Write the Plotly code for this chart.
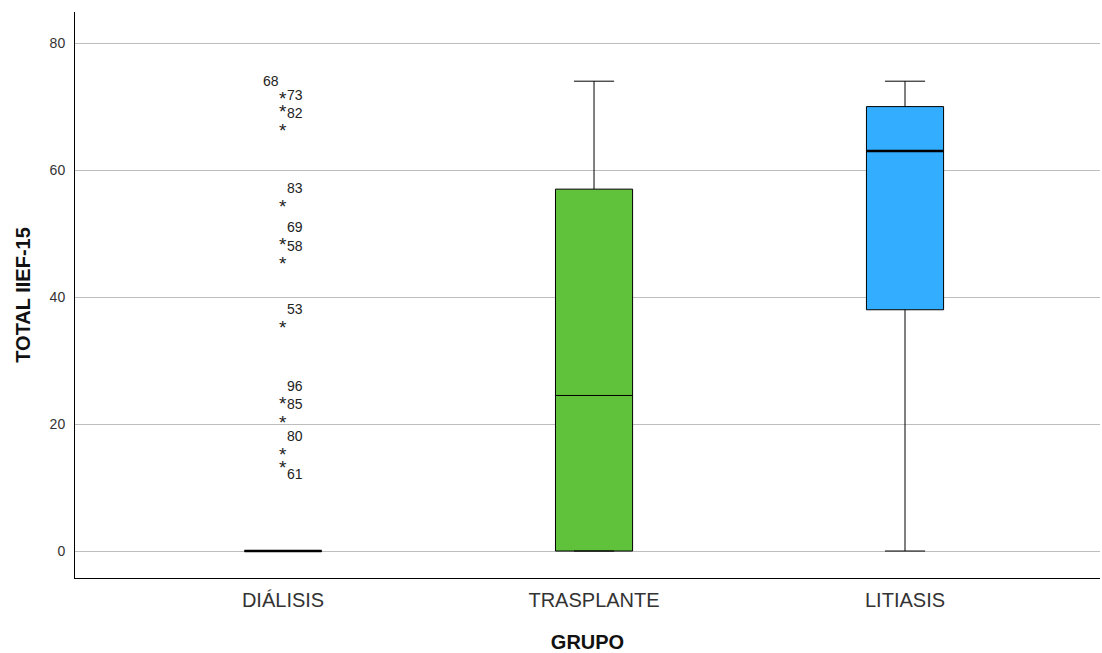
import plotly.graph_objects as go

categories = ["DIÁLISIS", "TRASPLANTE", "LITIASIS"]
q1 = [0, 0, 38]
median = [0, 24.5, 63]
q3 = [0, 57, 70]
lower_fence = [0, 0, 0]
upper_fence = [0, 74, 74]
colors = ["#5fc23a", "#5fc23a", "#33adff"]

# Extreme outliers of DIÁLISIS (value, case id)
outlier_values = [72, 70, 67, 55, 49, 46, 36, 24, 21, 16, 14]
outlier_ids = ["68", "73", "82", "83", "69", "58", "53", "96", "85", "80", "61"]
# label offsets in pixels (style)
label_dx = [-12, 12, 12, 12, 12, 12, 12, 12, 12, 12, 12]
label_dy = [13, 12, 13, 14, 13, 13, 13, 13, 14, 13, -12]

yticks = [0, 20, 40, 60, 80]

BOXW = 0.248
fig = go.Figure()
for i, cat in enumerate(categories):
    fig.add_trace(go.Box(
        x=[i], q1=[q1[i]], median=[median[i]], q3=[q3[i]],
        lowerfence=[lower_fence[i]], upperfence=[upper_fence[i]],
        width=BOXW, whiskerwidth=0.52, boxpoints=False,
        fillcolor=colors[i], line=dict(color="#000000", width=1),
        showlegend=False, hoverinfo="skip",
    ))

# thick median lines (Diálisis and Litiasis)
for i in [0, 2]:
    fig.add_trace(go.Scatter(
        x=[i - BOXW / 2, i + BOXW / 2], y=[median[i], median[i]],
        mode="lines", line=dict(color="#000000", width=2.5),
        showlegend=False, hoverinfo="skip",
    ))

annotations = []
for v, lab, dx, dy in zip(outlier_values, outlier_ids, label_dx, label_dy):
    annotations.append(dict(x=0, y=v, xref="x", yref="y", text="*", showarrow=False,
                            font=dict(family="Arial", size=19, color="#222222"),
                            yshift=-5))
    annotations.append(dict(x=0, y=v, xref="x", yref="y", text=lab, showarrow=False,
                            font=dict(family="Arial", size=14, color="#222222"),
                            xshift=dx, yshift=dy))

fig.update_layout(
    width=1102, height=653,
    margin=dict(l=75, r=2, t=12, b=75),
    plot_bgcolor="white", paper_bgcolor="white",
    annotations=annotations,
    xaxis=dict(
        range=[-0.669, 2.627], tickvals=[0, 1, 2], ticktext=categories,
        showgrid=False, zeroline=False, showline=True, linecolor="#000000", linewidth=1,
        ticks="outside", ticklen=0, ticklabelstandoff=4,
        tickfont=dict(family="Arial", size=20, color="#333333"),
        title=dict(text="<b>GRUPO</b>", font=dict(family="Arial", size=20, color="#111111"), standoff=25),
    ),
    yaxis=dict(
        range=[-4.25, 84.9], tickvals=yticks,
        showgrid=True, gridcolor="#bdbdbd", gridwidth=1, zeroline=False,
        showline=True, linecolor="#000000", linewidth=1,
        ticks="outside", ticklen=0, ticklabelstandoff=6,
        tickfont=dict(family="Arial", size=14, color="#333333"),
        title=dict(text="<b>TOTAL IIEF-15</b>", font=dict(family="Arial", size=20, color="#111111"), standoff=13),
    ),
)

fig.write_html("out.html", config={"displayModeBar": False},
               post_script="document.body.style.margin='0';document.body.style.overflow='hidden';")
